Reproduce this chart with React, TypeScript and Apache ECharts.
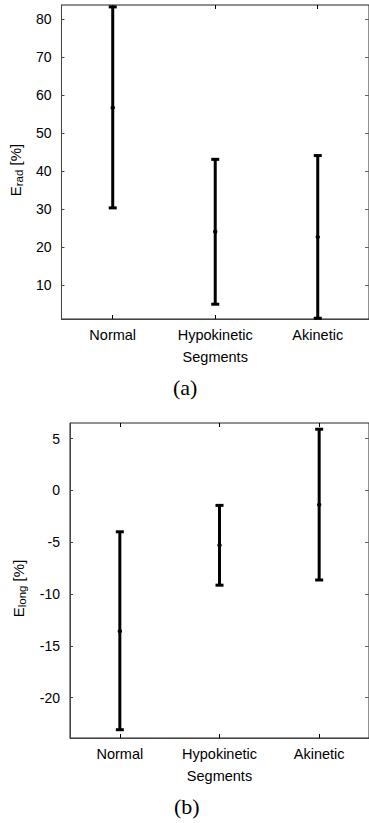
import React, { useEffect, useRef } from "react";
import * as echarts from "echarts";

const categories = ["Normal", "Hypokinetic", "Akinetic"];

// (a) radial strain
const radMean = [56.7, 24.0, 22.6];
const radLow = [30.3, 4.9, 1.2];
const radHigh = [83.3, 43.1, 44.1];
const radTicks = [10, 20, 30, 40, 50, 60, 70, 80];
const radRange = [1, 83.8];

// (b) longitudinal strain
const longMean = [-13.6, -5.3, -1.4];
const longLow = [-23.1, -9.15, -8.65];
const longHigh = [-4.0, -1.45, 5.9];
const longTicks = [-20, -15, -10, -5, 0, 5];
const longRange = [-23.9, 6.5];

const SANS = "'Liberation Sans', Arial, Helvetica, sans-serif";

function errData(low: number[], high: number[], mean: number[]) {
  return categories.map((_, i) => [i, low[i], high[i], mean[i]]);
}

function renderErr(params: any, api: any) {
  const x = api.value(0);
  const lo = api.coord([x, api.value(1)]);
  const hi = api.coord([x, api.value(2)]);
  const mn = api.coord([x, api.value(3)]);
  const cap = 4;
  const st = { stroke: "#000", lineWidth: 3 };
  return {
    type: "group",
    children: [
      { type: "line", shape: { x1: lo[0], y1: lo[1], x2: hi[0], y2: hi[1] }, style: st },
      { type: "line", shape: { x1: lo[0] - cap, y1: lo[1], x2: lo[0] + cap, y2: lo[1] }, style: st },
      { type: "line", shape: { x1: hi[0] - cap, y1: hi[1], x2: hi[0] + cap, y2: hi[1] }, style: st },
      { type: "circle", shape: { cx: mn[0], cy: mn[1], r: 2.2 }, style: { fill: "#000" } },
    ],
  };
}

export default function App() {
  const ref = useRef<HTMLDivElement>(null);
  useEffect(() => {
    if (!ref.current) return;
    const chart = echarts.init(ref.current, null, { renderer: "svg" });
    const labelStyle = { color: "#000", fontFamily: SANS, fontSize: 14 };
    const mkX = (gi: number) => [
      {
        type: "category",
        gridIndex: gi,
        data: categories,
        position: "bottom",
        axisLine: { show: true, onZero: false, lineStyle: { color: "#444", width: 1 } },
        axisTick: { show: true, inside: true, length: 4, alignWithLabel: true, lineStyle: { color: "#000" } },
        axisLabel: { ...labelStyle, fontSize: 14.5, margin: 8 },
        name: "Segments",
        nameLocation: "middle",
        nameGap: 30,
        nameTextStyle: { ...labelStyle, fontSize: 14.5 },
      },
      {
        type: "category",
        gridIndex: gi,
        data: categories,
        position: "top",
        axisLine: { show: false, onZero: false },
        axisTick: { show: true, inside: true, length: 4, alignWithLabel: true, lineStyle: { color: "#000" } },
        axisLabel: { show: false },
      },
    ];
    const mkY = (gi: number, range: number[], ticks: number[], sub: string, gap: number) => [
      {
        type: "value",
        gridIndex: gi,
        min: range[0],
        max: range[1],
        position: "left",
        splitLine: { show: false },
        axisLine: { show: true, onZero: false, lineStyle: { color: "#444", width: 1 } },
        axisTick: { show: true, inside: true, length: 3, customValues: ticks, lineStyle: { color: "#444" } },
        axisLabel: { ...labelStyle, margin: 10, customValues: ticks },
        name: `{e|E}{s|${sub}}{e| [%]}`,
        nameLocation: "middle",
        nameRotate: 90,
        nameGap: gap,
        nameTextStyle: {
          padding: [0, 16, 0, 0],
          rich: {
            e: { fontFamily: SANS, fontSize: 15, color: "#000", lineHeight: 19 },
            s: { fontFamily: SANS, fontSize: 11.5, color: "#000", lineHeight: 19, verticalAlign: "bottom" },
          },
        },
      },
      {
        type: "value",
        gridIndex: gi,
        min: range[0],
        max: range[1],
        position: "right",
        splitLine: { show: false },
        axisLine: { show: false, onZero: false },
        axisTick: { show: true, inside: true, length: 4, customValues: ticks, lineStyle: { color: "#666" } },
        axisLabel: { show: false, customValues: ticks },
      },
    ];

    chart.setOption({
      animation: false,
      backgroundColor: "#fff",
      grid: [
        { left: 61, top: 5, width: 311, height: 314, show: true, borderColor: "#222", borderWidth: 1, containLabel: false },
        { left: 70, top: 423, width: 302, height: 315, show: true, borderColor: "#222", borderWidth: 1, containLabel: false },
      ],
      xAxis: [...mkX(0), ...mkX(1)],
      yAxis: [...mkY(0, radRange, radTicks, "rad", 33), ...mkY(1, longRange, longTicks, "long", 42)],
      series: [
        {
          type: "custom",
          xAxisIndex: 0,
          yAxisIndex: 0,
          renderItem: renderErr,
          encode: { x: 0, y: [1, 2, 3] },
          data: errData(radLow, radHigh, radMean),
          clip: false,
        },
        {
          type: "custom",
          xAxisIndex: 2,
          yAxisIndex: 2,
          renderItem: renderErr,
          encode: { x: 0, y: [1, 2, 3] },
          data: errData(longLow, longHigh, longMean),
          clip: false,
        },
      ],
      graphic: [
        {
          type: "text",
          left: 173,
          top: 376,
          style: { text: "(a)", font: "22px 'Liberation Serif', 'Times New Roman', serif", fill: "#000" },
        },
        {
          type: "text",
          left: 174,
          top: 795,
          style: { text: "(b)", font: "22px 'Liberation Serif', 'Times New Roman', serif", fill: "#000" },
        },
      ],
    });
    return () => chart.dispose();
  }, []);
  return (
    <div
      ref={ref}
      style={{ position: "absolute", left: 0, top: 0, width: 369, height: 823 }}
    />
  );
}
